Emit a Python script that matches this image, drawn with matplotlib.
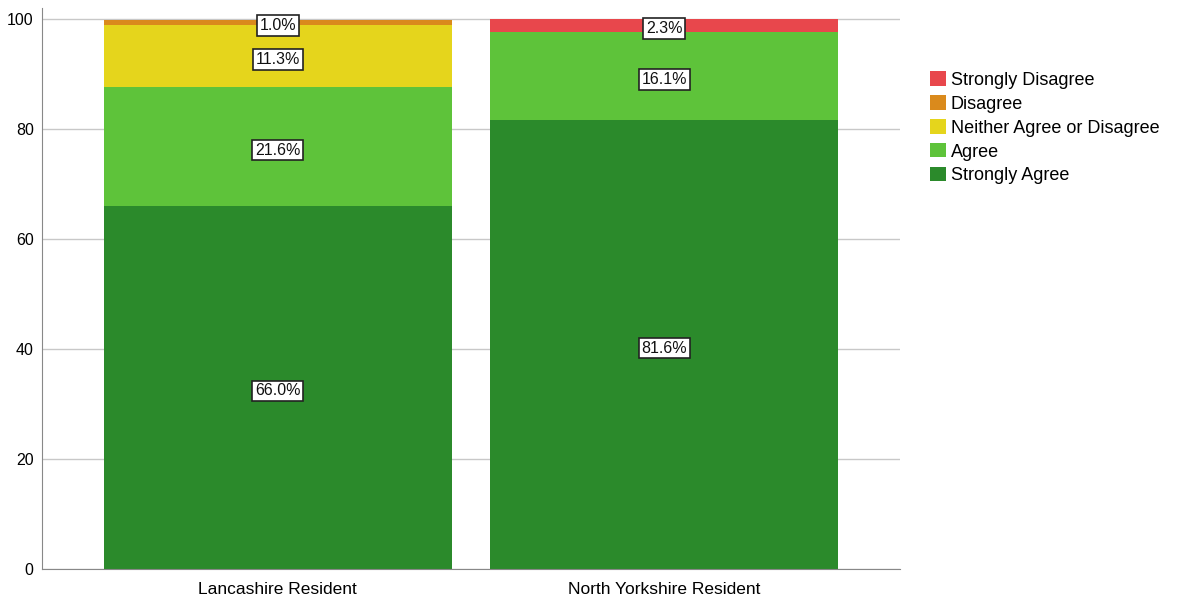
import matplotlib
matplotlib.use("Agg")
import matplotlib.pyplot as plt
import matplotlib.transforms as mtransforms
import numpy as np

categories = ["Lancashire Resident", "North Yorkshire Resident"]
series_names = ["Strongly Agree", "Agree", "Neither Agree or Disagree", "Disagree", "Strongly Disagree"]
strongly_agree = [66.0, 81.6]
agree = [21.6, 16.1]
neither = [11.3, 0.0]
disagree = [1.0, 0.0]
strongly_disagree = [0.0, 2.3]
colors = ["#2b8a2b", "#5ec33a", "#e5d51c", "#da8a1c", "#e8474c"]

plt.rcParams['font.family'] = ['Liberation Sans', 'DejaVu Sans']
fig = plt.figure(figsize=(11.81, 5.98), dpi=100)
ax = fig.add_axes([42/1181, 1-569/598, (900-42)/1181, (569-8)/598])

x = np.arange(len(categories))
bottom = np.zeros(len(categories))
data = [strongly_agree, agree, neither, disagree, strongly_disagree]
handles = []
offset = mtransforms.offset_copy(ax.transData, fig=fig, x=0, y=-2.5, units='points')
for name, vals, c in zip(series_names, data, colors):
    vals = np.array(vals)
    b = ax.bar(x, vals, width=0.9, bottom=bottom, color=c, label=name, zorder=2)
    handles.append(b)
    for xi, v, bt in zip(x, vals, bottom):
        if v > 0:
            ax.text(xi, bt + v/2, f"{v:.1f}%", ha="center", va="center", fontsize=11.5,
                    color="#111111", zorder=4, transform=offset,
                    bbox=dict(boxstyle="square,pad=0.18", fc="white", ec="#222222", lw=1.2))
    bottom += vals

ax.set_xlim(-0.61, 1.61)
ax.set_ylim(0, 102)
ax.set_yticks([0, 20, 40, 60, 80, 100])
ax.set_xticks(x)
ax.set_xticklabels(categories, fontsize=12.5)
ax.tick_params(axis='y', labelsize=11.5, length=0, pad=6)
ax.tick_params(axis='x', length=0, pad=9)
ax.yaxis.grid(True, color="#c8c8c8", lw=1, zorder=0)
ax.set_axisbelow(True)
for s in ["top", "right"]:
    ax.spines[s].set_visible(False)
for s in ["left", "bottom"]:
    ax.spines[s].set_color("#888888")

leg = fig.legend(handles[::-1], series_names[::-1], loc="upper left",
                 bbox_to_anchor=(923/1181, 1-64/598), frameon=False, fontsize=13,
                 handlelength=0.85, handleheight=0.85, handletextpad=0.3, labelspacing=0.36,
                 borderaxespad=0)

fig.savefig("out.png", dpi=100)
